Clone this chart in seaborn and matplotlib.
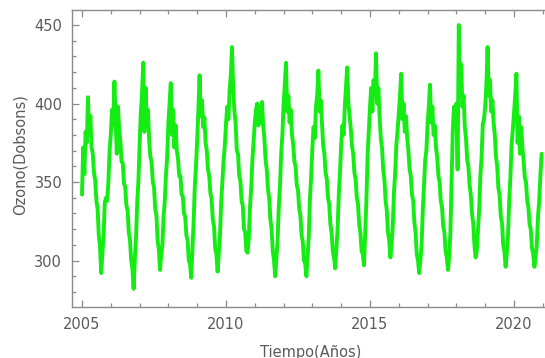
import numpy as np
import pandas as pd
import matplotlib
matplotlib.use("Agg")
import matplotlib.pyplot as plt
import seaborn as sns
from matplotlib.ticker import MultipleLocator

# Semi-monthly readings (24 per year) of total ozone, in Dobson units
years = list(range(2005, 2021))
oz_2005 = [342, 372, 355, 382, 375, 404, 380, 392, 372, 368, 356, 351, 338, 333, 316, 309, 292, 304, 316, 337, 340, 338, 350, 370]
oz_2006 = [380, 396, 386, 414, 392, 368, 398, 384, 376, 363, 362, 349, 347, 335, 332, 318, 313, 300, 295, 282, 300, 314, 337, 350]
oz_2007 = [374, 394, 406, 426, 382, 410, 388, 396, 376, 366, 363, 350, 347, 333, 329, 313, 307, 294, 303, 310, 328, 338, 355, 366]
oz_2008 = [388, 400, 413, 380, 396, 372, 386, 370, 365, 354, 354, 342, 341, 330, 328, 316, 313, 300, 298, 289, 307, 324, 347, 360]
oz_2009 = [377, 396, 418, 392, 402, 385, 391, 375, 370, 358, 354, 343, 339, 326, 322, 308, 304, 293, 304, 316, 337, 350, 364, 373]
oz_2010 = [387, 398, 390, 408, 418, 436, 410, 395, 388, 370, 368, 354, 351, 338, 335, 320, 318, 306, 305, 314, 334, 346, 364, 376]
oz_2011 = [388, 396, 400, 386, 398, 388, 401, 386, 378, 364, 358, 345, 340, 326, 320, 306, 300, 290, 302, 313, 334, 348, 368, 380]
oz_2012 = [400, 412, 426, 395, 405, 388, 396, 380, 374, 363, 360, 348, 345, 333, 329, 316, 312, 300, 298, 290, 302, 316, 340, 354]
oz_2013 = [372, 385, 378, 398, 405, 421, 395, 402, 387, 373, 368, 356, 352, 340, 336, 323, 318, 306, 302, 295, 307, 320, 342, 356]
oz_2014 = [374, 386, 380, 398, 410, 423, 400, 392, 384, 373, 368, 356, 352, 340, 336, 323, 318, 306, 304, 297, 317, 338, 367, 383]
oz_2015 = [398, 410, 395, 415, 405, 432, 400, 410, 392, 378, 372, 358, 352, 338, 332, 318, 313, 302, 310, 322, 344, 356, 374, 383]
oz_2016 = [394, 405, 419, 390, 400, 382, 392, 378, 370, 358, 354, 342, 338, 324, 318, 304, 300, 292, 300, 310, 332, 348, 364, 370]
oz_2017 = [387, 398, 412, 388, 398, 380, 386, 372, 366, 354, 350, 338, 334, 322, 318, 306, 302, 294, 302, 318, 350, 383, 398, 390]
oz_2018 = [400, 358, 450, 418, 425, 398, 405, 385, 378, 364, 360, 348, 342, 330, 324, 310, 302, 306, 320, 333, 354, 366, 387, 390]
oz_2019 = [398, 412, 436, 405, 415, 395, 402, 388, 380, 366, 360, 346, 342, 328, 324, 310, 306, 296, 304, 316, 338, 353, 374, 383]
oz_2020 = [394, 405, 419, 375, 392, 368, 385, 372, 364, 353, 350, 338, 334, 323, 320, 308, 304, 296, 302, 310, 328, 338, 354, 368]

series = [oz_2005, oz_2006, oz_2007, oz_2008, oz_2009, oz_2010, oz_2011, oz_2012,
          oz_2013, oz_2014, oz_2015, oz_2016, oz_2017, oz_2018, oz_2019, oz_2020]

x_major = [2005, 2010, 2015, 2020]
y_major = [300, 350, 400, 450]

rows = []
for yr, vals in zip(years, series):
    for k, v in enumerate(vals):
        rows.append((yr + k / 24.0, v))
df = pd.DataFrame(rows, columns=["Tiempo", "Ozono"])

sns.set_theme(style="white")
plt.rcParams['font.family'] = ['DejaVu Sans']

fig = plt.figure(figsize=(5.45, 3.58), dpi=100)
ax = fig.add_axes([72 / 545, 51 / 358, 475 / 545, 297 / 358])
sns.lineplot(data=df, x="Tiempo", y="Ozono", ax=ax, color="#14ec14",
             linewidth=2.8, estimator=None, sort=False)

ax.set_xlim(2004.653, 2021.146)
ax.set_ylim(270.4, 459.6)

frame_col = "#8a8a8a"
text_col = "#5a5a5a"
for side in ["left", "bottom", "top"]:
    ax.spines[side].set_visible(True)
    ax.spines[side].set_color(frame_col)
    ax.spines[side].set_linewidth(1.0)
ax.spines["right"].set_visible(False)

ax.set_xticks(x_major)
ax.set_xticklabels([str(v) for v in x_major])
ax.set_yticks(y_major)
ax.set_yticklabels([str(v) for v in y_major])
ax.xaxis.set_minor_locator(MultipleLocator(1))
ax.yaxis.set_minor_locator(MultipleLocator(10))
ax.tick_params(axis="both", which="major", direction="in", length=5, width=0.9,
               color=frame_col, labelcolor=text_col, labelsize=10.5, pad=7)
ax.tick_params(axis="both", which="minor", direction="in", length=3, width=0.9,
               color=frame_col)
ax.tick_params(axis="x", which="both", top=True, bottom=True)
ax.tick_params(axis="y", which="both", left=True, right=False)

ax.set_xlabel("Tiempo(Años)", fontsize=10.5, color=text_col)
ax.set_ylabel("Ozono(Dobsons)", fontsize=10.5, color=text_col)
ax.xaxis.label.set_va("center")
ax.yaxis.label.set_va("center")
ax.xaxis.set_label_coords((311 - 72) / 475, (307 - 352) / 297)
ax.yaxis.set_label_coords((20 - 72) / 475, (307 - 155) / 297)
ax.grid(False)

fig.savefig("out.png", dpi=100)
